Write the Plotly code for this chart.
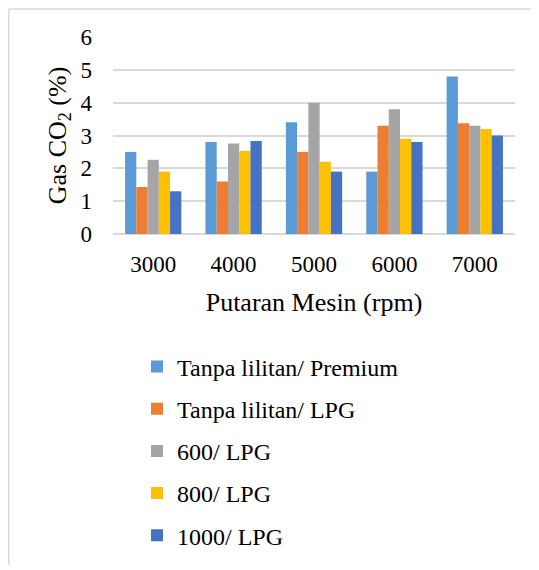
import plotly.graph_objects as go

categories = ["3000", "4000", "5000", "6000", "7000"]
series_names = ["Tanpa lilitan/ Premium", "Tanpa lilitan/ LPG", "600/ LPG", "800/ LPG", "1000/ LPG"]
premium = [2.5, 2.8, 3.4, 1.9, 4.8]
lpg = [1.43, 1.6, 2.5, 3.3, 3.37]
w600 = [2.26, 2.76, 4.0, 3.8, 3.3]
w800 = [1.9, 2.53, 2.2, 2.9, 3.2]
w1000 = [1.3, 2.83, 1.9, 2.8, 3.0]
colors = ["#5B9BD5", "#ED7D31", "#A5A5A5", "#FFC000", "#4472C4"]
values = [premium, lpg, w600, w800, w1000]

# the page body has an 8px margin, so the figure is drawn 8px in from the window edge
W, H = 531, 562
ML, MR, MT, MB = 105, 24, 29, 334
PW, PH = W - ML - MR, H - MT - MB

def px(x):
    return (x - ML) / PW

def py(y):
    return (H - MB - y) / PH

FONT = "Liberation Serif, Times New Roman, serif"

fig = go.Figure()
for i, (name, vals, col) in enumerate(zip(series_names, values, colors)):
    fig.add_trace(go.Bar(x=categories, y=vals, name=name, marker=dict(color=col, line=dict(width=0)),
                         legendgroup=f"g{i}"))

fig.update_layout(
    width=W, height=H,
    margin=dict(l=ML, r=MR, t=MT, b=MB, pad=0),
    paper_bgcolor="white", plot_bgcolor="white",
    barmode="group", bargap=0.3, bargroupgap=0,
    font=dict(family=FONT, size=23, color="#000000"),
    showlegend=True,
    legend=dict(x=px(129), y=py(339.5), xanchor="left", yanchor="top", orientation="v",
                font=dict(family=FONT, size=24, color="#000000"), tracegroupgap=8,
                bgcolor="rgba(0,0,0,0)"),
    xaxis=dict(type="category", showgrid=False, showline=False, ticks="", zeroline=False,
               tickfont=dict(family=FONT, size=23), ticklabelstandoff=14,
               title=dict(text="Putaran Mesin (rpm)", font=dict(family=FONT, size=26), standoff=16)),
    yaxis=dict(range=[0, 6], dtick=1, showgrid=True, gridcolor="#D9D9D9", gridwidth=1.5,
               zeroline=True, zerolinecolor="#D9D9D9", zerolinewidth=1.5, showline=False, ticks="",
               tickfont=dict(family=FONT, size=23), ticklabelstandoff=20,
               title=dict(text="Gas CO<sub>2</sub> (%)", font=dict(family=FONT, size=26), standoff=6)),
    shapes=[
        dict(type="line", xref="paper", yref="paper", x0=px(0.5), x1=px(W), y0=py(0.75), y1=py(0.75),
             line=dict(color="#D9D9D9", width=1.5)),
        dict(type="line", xref="paper", yref="paper", x0=px(0.5), x1=px(0.5), y0=py(0.75), y1=py(H),
             line=dict(color="#D9D9D9", width=2)),
    ],
)

fig.write_html("out.html")
